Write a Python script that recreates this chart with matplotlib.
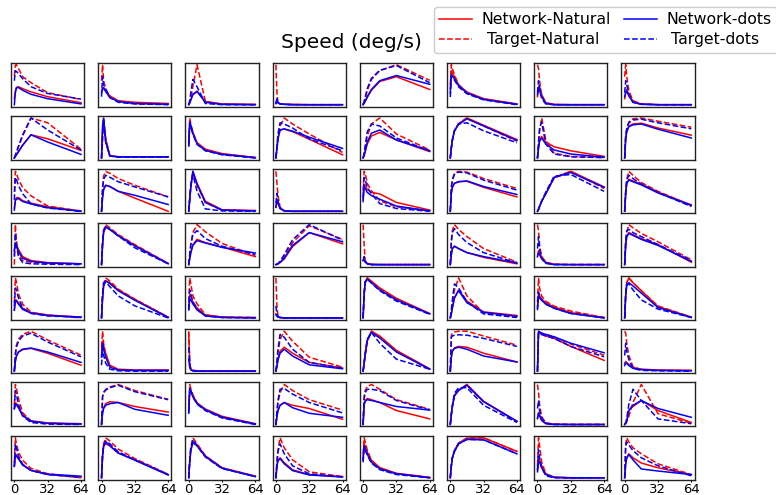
import matplotlib
matplotlib.use("Agg")
import matplotlib.pyplot as plt
from matplotlib.lines import Line2D

# speeds sampled for every tuning curve (deg/s)
speeds = [0, 1, 2, 4, 8, 16, 32, 64]

# 64 units, 8 values each (arbitrary units, normalised per unit)
net_natural = [
    [15,35,43,45,40,32,20,5], [35,40,43,35,22,10,6,3], [0,5,12,25,34,8,2,1], [3,8,5,2,1,1,0,0],
    [0,4,8,18,36,58,70,38], [40,85,80,70,50,32,16,3], [20,45,40,25,5,1,0,0], [15,30,38,25,8,2,0,0],
    [0,4,8,16,32,58,48,19], [0,70,95,45,6,3,3,3], [35,85,80,62,38,22,11,1], [0,25,50,70,72,66,47,8],
    [0,6,15,35,55,64,45,16], [0,25,45,68,86,100,82,46], [0,25,45,54,40,28,18,4], [0,50,68,80,85,87,75,57],
    [10,30,35,36,28,22,13,3], [0,35,55,65,62,50,33,0], [0,30,60,100,70,25,4,2], [10,30,25,8,1,0,0,0],
    [30,68,65,55,48,44,23,4], [0,45,60,70,74,75,60,36], [0,5,12,25,44,84,100,61], [0,45,70,80,76,68,48,16],
    [35,55,50,38,20,10,5,2], [0,50,80,93,88,73,48,3], [0,15,30,50,63,55,44,20], [0,1,2,5,14,45,80,52],
    [10,15,8,3,1,0,0,0], [0,25,40,46,40,30,18,2], [20,35,30,20,6,1,0,0], [0,50,70,80,75,65,50,6],
    [20,45,45,38,25,14,8,3], [0,50,80,93,88,70,46,2], [25,58,55,40,25,7,2,1], [10,5,2,1,0,0,0,0],
    [0,60,90,100,92,75,49,11], [0,10,25,50,70,42,15,6], [30,60,55,48,38,28,14,2], [0,60,88,100,88,68,28,2],
    [0,25,38,48,54,57,45,15], [40,75,65,45,15,5,3,3], [95,20,5,2,1,1,1,1], [0,12,30,50,60,45,22,8],
    [0,20,40,75,100,88,52,6], [0,35,50,58,62,60,45,23], [0,97,96,92,88,82,62,27], [20,25,22,18,10,6,4,3],
    [40,55,53,45,25,10,5,3], [0,30,42,52,57,55,45,31], [35,85,85,72,55,40,22,4], [0,20,35,48,55,48,40,13],
    [0,50,60,65,62,55,35,14], [0,25,45,72,85,100,58,8], [15,30,25,12,3,1,0,0], [0,3,8,35,45,60,35,5],
    [30,60,58,50,35,20,10,3], [0,55,78,85,80,62,45,8], [0,40,70,92,82,55,25,4], [0,30,45,50,38,20,8,3],
    [50,85,80,65,45,27,13,3], [0,30,50,68,87,99,100,66], [20,45,45,30,10,2,0,0], [0,35,50,60,50,37,25,8],
]
target_natural = [
    [72,99,100,90,70,55,30,13], [60,100,60,40,20,8,3,1], [0,5,15,45,100,8,1,0], [100,30,5,2,1,0,0,0],
    [0,7,15,35,63,85,100,61], [50,100,90,75,50,32,15,2], [100,90,60,25,3,0,0,0], [70,100,70,35,10,2,0,0],
    [0,7,14,28,55,100,88,22], [0,40,100,50,5,3,3,3], [40,100,85,65,38,21,10,1], [0,20,45,80,100,85,60,14],
    [0,10,25,55,85,100,60,20], [0,25,45,68,86,100,80,42], [0,30,65,100,45,12,4,1], [0,55,75,90,98,100,92,77],
    [50,100,95,80,60,40,15,2], [0,60,88,100,95,82,65,36], [0,30,60,95,65,22,3,1], [100,70,40,10,1,0,0,0],
    [50,100,95,70,52,27,12,2], [0,60,80,95,100,98,82,57], [0,5,12,25,45,83,100,57], [0,50,80,100,90,72,50,14],
    [0,100,60,25,10,6,3,2], [0,55,85,100,92,75,50,3], [0,25,50,80,100,82,53,23], [0,1,2,6,20,55,97,63],
    [100,50,10,2,0,0,0,0], [0,60,85,100,88,70,40,6], [100,85,50,20,5,1,0,0], [0,55,80,100,92,78,57,12],
    [40,100,90,60,35,15,8,1], [0,55,85,100,92,72,47,2], [40,100,85,55,35,8,2,1], [100,30,5,1,0,0,0,0],
    [0,60,90,100,90,73,47,10], [0,15,35,70,100,55,12,2], [40,100,75,55,42,30,18,2], [0,60,88,100,88,68,30,2],
    [0,45,65,80,92,100,78,40], [60,100,70,40,12,3,2,1], [100,20,5,2,1,1,1,1], [0,20,45,80,100,75,35,10],
    [0,20,40,75,100,85,50,5], [0,90,95,98,100,100,88,65], [0,100,98,95,92,85,68,40], [100,95,70,40,12,5,3,3],
    [50,100,90,65,30,10,4,2], [0,70,80,88,94,100,85,63], [40,100,90,75,55,38,20,3], [0,30,55,80,100,85,62,36],
    [0,70,85,95,100,88,62,38], [0,25,45,72,85,100,57,8], [100,80,50,20,4,1,0,0], [0,3,8,20,55,100,27,3],
    [40,100,85,65,45,25,12,2], [0,60,85,100,92,72,48,9], [0,45,75,100,85,55,25,4], [0,40,70,100,75,45,15,3],
    [60,100,90,70,45,25,12,3], [0,30,50,68,87,99,100,66], [30,100,80,40,10,1,0,0], [0,85,100,90,75,60,35,8],
]
net_dots = [
    [0,30,42,43,36,26,15,2], [30,38,42,33,18,8,3,1], [0,5,12,26,33,6,1,0], [3,10,5,2,1,0,0,0],
    [0,4,9,20,38,60,73,51], [30,75,72,65,48,30,14,2], [25,40,35,20,3,0,0,0], [20,30,34,22,6,1,0,0],
    [0,4,8,16,32,58,40,9], [0,80,100,40,5,3,3,3], [30,90,82,62,35,19,9,1], [0,25,50,70,73,67,52,24],
    [0,7,17,40,62,70,45,18], [0,25,45,68,84,98,80,44], [0,25,42,50,35,20,10,2], [0,50,65,78,83,85,72,50],
    [5,28,32,33,26,20,11,2], [0,35,55,65,62,50,40,17], [0,30,62,100,68,22,3,1], [10,25,20,7,1,0,0,0],
    [25,62,58,48,40,31,14,2], [0,45,60,70,74,76,62,42], [0,5,12,25,44,85,97,60], [0,45,70,78,74,66,46,15],
    [35,52,45,32,16,8,4,2], [0,50,82,95,88,72,47,2], [0,15,30,48,60,54,43,29], [0,1,2,6,16,48,80,57],
    [10,12,6,2,0,0,0,0], [0,25,40,46,40,30,20,4], [20,30,25,15,4,0,0,0], [0,50,70,78,73,63,48,8],
    [20,45,43,35,22,13,7,3], [0,50,80,92,86,68,44,1], [20,48,45,35,20,5,1,0], [8,4,2,1,0,0,0,0],
    [0,58,88,97,88,70,45,10], [0,10,25,50,68,38,14,4], [25,55,50,45,35,25,12,1], [0,55,80,88,80,62,26,1],
    [0,25,38,48,55,58,48,22], [35,70,55,35,10,3,2,2], [30,10,3,1,0,0,0,0], [0,12,28,45,55,38,16,6],
    [0,20,42,78,97,83,48,5], [0,35,50,57,60,55,38,23], [0,100,98,95,92,86,70,46], [15,22,20,15,8,5,3,2],
    [40,50,50,42,23,9,4,2], [0,28,40,48,52,55,38,23], [30,90,85,70,53,38,20,3], [0,20,35,48,55,42,28,18],
    [0,50,58,62,60,55,45,36], [0,25,45,72,86,98,57,8], [15,28,22,10,2,0,0,0], [0,3,8,35,48,60,40,18],
    [30,58,55,48,33,20,11,6], [0,55,80,90,80,62,44,7], [0,40,68,88,80,53,24,3], [0,30,42,48,35,18,7,2],
    [45,80,75,60,40,24,12,2], [0,30,50,66,85,96,95,60], [15,40,40,25,8,1,0,0], [0,35,50,58,45,22,17,8],
]
target_dots = [
    [60,85,83,78,65,45,28,14], [20,70,50,38,18,6,2,0], [0,10,30,63,45,3,0,0], [5,15,5,2,1,0,0,0],
    [0,8,18,40,66,86,98,55], [20,70,70,62,45,28,13,1], [30,60,45,15,2,0,0,0], [30,60,50,25,6,1,0,0],
    [0,7,14,30,58,100,70,20], [0,60,95,40,5,2,2,2], [30,82,78,60,34,18,8,0], [0,30,60,88,85,75,48,18],
    [0,12,30,65,85,80,50,18], [0,25,45,68,85,88,68,38], [0,40,75,90,35,10,3,1], [0,55,72,88,95,97,88,73],
    [30,85,80,65,45,20,10,2], [0,55,80,90,85,74,61,36], [0,35,65,92,50,6,1,0], [20,45,25,8,1,0,0,0],
    [35,85,80,60,45,20,8,1], [0,60,78,92,98,96,78,53], [0,5,12,25,48,88,92,50], [0,50,78,90,82,68,47,12],
    [20,78,50,20,5,2,1,0], [0,55,85,95,88,72,42,2], [0,25,50,75,85,65,46,25], [0,1,3,8,25,62,100,61],
    [10,20,8,2,0,0,0,0], [0,55,80,90,75,55,30,4], [40,70,40,15,3,0,0,0], [0,60,85,88,80,70,50,10],
    [30,75,70,50,25,12,6,2], [0,60,88,90,78,55,30,0], [20,70,60,40,22,5,1,0], [30,10,3,1,0,0,0,0],
    [0,60,90,97,87,68,42,9], [0,20,45,85,75,40,10,1], [20,65,55,45,35,25,12,1], [0,60,85,85,70,45,22,1],
    [0,40,60,75,88,95,73,36], [15,60,40,20,5,1,0,0], [60,15,4,1,0,0,0,0], [0,25,55,92,85,55,22,7],
    [0,20,45,80,97,70,30,5], [0,85,88,90,91,90,82,62], [0,95,95,92,88,82,62,36], [40,70,50,30,8,3,2,1],
    [40,85,75,50,22,6,2,1], [0,70,80,86,92,98,82,62], [30,88,85,70,52,36,18,2], [0,35,60,88,90,76,55,29],
    [0,65,80,88,88,85,60,36], [0,25,48,78,92,92,48,5], [40,60,35,15,3,0,0,0], [0,5,15,50,88,60,14,2],
    [30,85,75,55,35,20,10,3], [0,55,80,92,85,65,45,8], [0,45,75,95,80,52,23,3], [0,40,65,85,60,30,10,2],
    [40,75,70,58,38,22,10,2], [0,30,50,66,85,96,95,60], [20,70,50,25,5,0,0,0], [0,80,90,82,68,50,30,5],
]

n_rows, n_cols = 8, 8
W, H = 776, 495
fig = plt.figure(figsize=(W / 100, H / 100), dpi=100)

ax_w, ax_h = 73.3 / W, 44 / H
for i in range(n_rows * n_cols):
    r, c = divmod(i, n_cols)
    left = (11 + 87.19 * c) / W
    bottom = 1 - (62.7 + 53.3 * r + 44) / H
    ax = fig.add_axes([left, bottom, ax_w, ax_h])
    ax.plot(speeds, net_natural[i], color="red", lw=1.1)
    ax.plot(speeds, target_natural[i], color="red", lw=1.1, ls="--")
    ax.plot(speeds, net_dots[i], color="blue", lw=1.1)
    ax.plot(speeds, target_dots[i], color="blue", lw=1.1, ls="--")
    ax.set_yticks([])
    if r == n_rows - 1:
        ax.set_xticks([0, 32, 64])
        ax.tick_params(axis="x", labelsize=9.5, length=1.5, pad=0.8)
    else:
        ax.set_xticks([])
    for s in ax.spines.values():
        s.set_color("#222222")
        s.set_linewidth(1.0)

fig.text(0.453, 0.915, "Speed (deg/s)", fontsize=14.5, ha="center", va="center")

handles = [
    Line2D([], [], color="red", lw=1.1),
    Line2D([], [], color="red", lw=1.1, ls="--"),
    Line2D([], [], color="blue", lw=1.1),
    Line2D([], [], color="blue", lw=1.1, ls="--"),
]
labels = ["Network-Natural", " Target-Natural", "Network-dots", " Target-dots"]
fig.legend(handles, labels, ncol=2, loc="upper left", bbox_to_anchor=(434 / W, 1 - 7 / H),
           borderaxespad=0, fontsize=11.3, columnspacing=0.8, labelspacing=0.3,
           handlelength=2.1, handletextpad=0.6, borderpad=0.35, framealpha=1,
           edgecolor="#cccccc")

fig.savefig("out.png", dpi=100)
